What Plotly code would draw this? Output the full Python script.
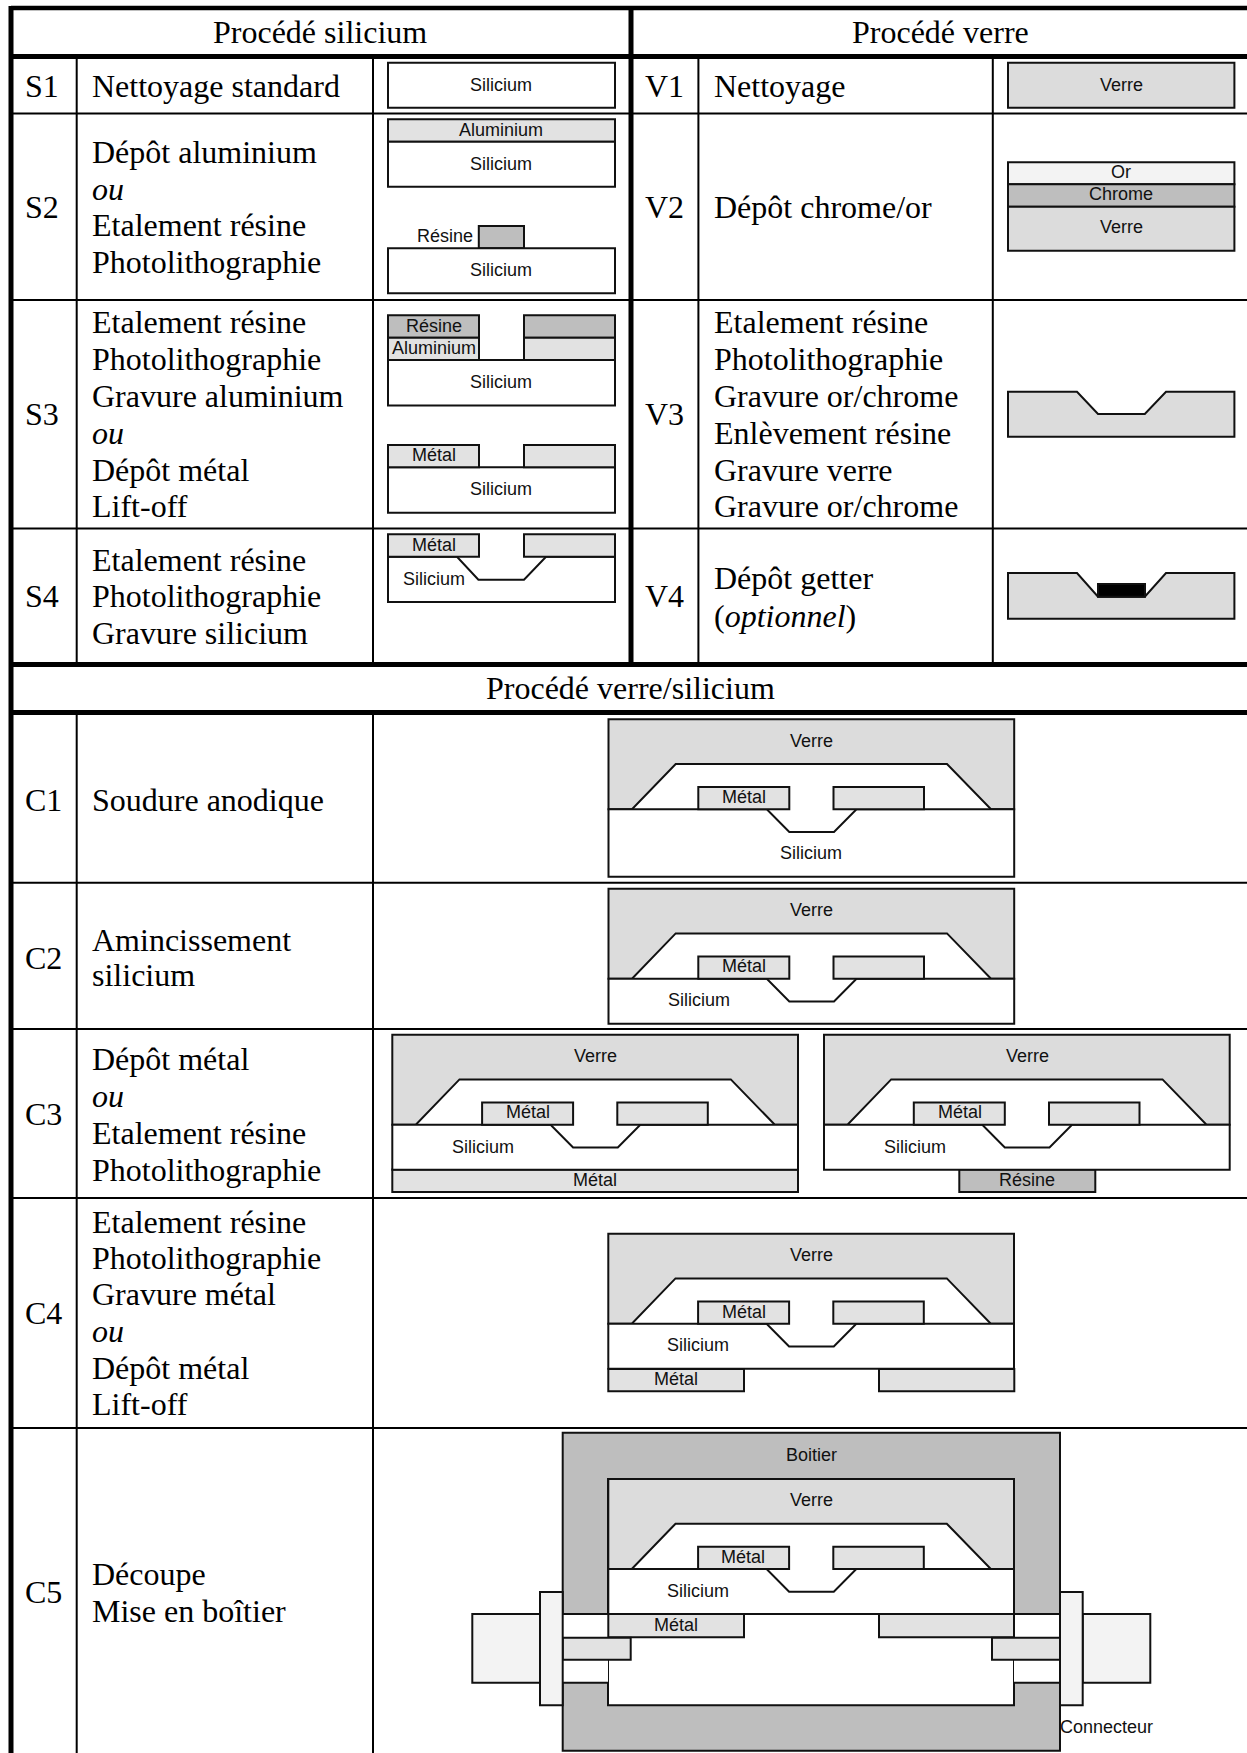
import plotly.graph_objects as go

WIDTH, HEIGHT = 1247, 1753
SERIF = "Liberation Serif"
SANS = "Liberation Sans"
SI, AL, GLASS, RES, OR, CONN = "#ffffff", "#e2e2e2", "#dcdcdc", "#bebebe", "#f3f3f3", "#f3f3f3"

# Table rules: (x0, y0, x1, y1, width)
TABLE_LINES = [
    (11, 8, 1247, 8, 4.5), (11, 56.5, 1247, 56.5, 5), (11, 664.5, 1247, 664.5, 5), (11, 712.5, 1247, 712.5, 5),
    (11, 6, 11, 1753, 5), (631, 8, 631, 664, 5),
    (11, 113.5, 1247, 113.5, 2), (11, 300, 1247, 300, 2), (11, 528.5, 1247, 528.5, 2),
    (11, 882.7, 1247, 882.7, 2), (11, 1029, 1247, 1029, 2), (11, 1198, 1247, 1198, 2), (11, 1428, 1247, 1428, 2),
    (76.7, 57, 76.7, 664, 2), (373, 57, 373, 664, 2), (698.4, 57, 698.4, 664, 2), (992.8, 57, 992.8, 664, 2),
    (76.7, 713, 76.7, 1753, 2), (373, 713, 373, 1753, 2),
]

# Headers and row text: (x, baseline y, text, anchor)
HEADERS = [(320, 42.7, "Procédé silicium"), (940, 42.7, "Procédé verre"), (630, 699.3, "Procédé verre/silicium")]
STEP_IDS = [
    (42, 96.7, "S1"), (42, 218, "S2"), (42, 425, "S3"), (42, 606.7, "S4"),
    (664, 96.7, "V1"), (664, 218, "V2"), (664, 425, "V3"), (664, 606.7, "V4"),
    (43, 811, "C1"), (43, 968.5, "C2"), (43, 1125, "C3"), (43, 1323.5, "C4"), (43, 1603, "C5"),
]
STEP_LINES_LEFT = [
    (96.7, "Nettoyage standard"),
    (163.3, "Dépôt aluminium"), (200, "<i>ou</i>"), (236, "Etalement résine"), (272.7, "Photolithographie"),
    (332.7, "Etalement résine"), (369.8, "Photolithographie"), (406.7, "Gravure aluminium"), (444, "<i>ou</i>"),
    (480.7, "Dépôt métal"), (516.7, "Lift-off"),
    (570.7, "Etalement résine"), (607, "Photolithographie"), (644, "Gravure silicium"),
    (811, "Soudure anodique"),
    (950.6, "Amincissement"), (986, "silicium"),
    (1070, "Dépôt métal"), (1107, "<i>ou</i>"), (1144, "Etalement résine"), (1181, "Photolithographie"),
    (1232.5, "Etalement résine"), (1268.8, "Photolithographie"), (1305, "Gravure métal"), (1342, "<i>ou</i>"),
    (1379, "Dépôt métal"), (1415, "Lift-off"),
    (1584.5, "Découpe"), (1621.5, "Mise en boîtier"),
]
STEP_LINES_RIGHT = [
    (96.7, "Nettoyage"), (218, "Dépôt chrome/or"),
    (332.7, "Etalement résine"), (369.8, "Photolithographie"), (406.7, "Gravure or/chrome"),
    (444, "Enlèvement résine"), (481, "Gravure verre"), (517, "Gravure or/chrome"),
    (589, "Dépôt getter"), (626.7, "(<i>optionnel</i>)"),
]

# Process-step rectangles: (x0, y0, x1, y1, fill)
RECTS = [
    (388, 62.7, 615, 107.7, SI),
    (388, 119.3, 615, 141.7, AL), (388, 141.7, 615, 186.7, SI),
    (478.8, 226, 524, 248.3, RES), (388, 248.3, 615, 293.3, SI),
    (388, 360, 615, 405.5, SI), (388, 315.3, 479, 337.7, RES), (524, 315.3, 615, 337.7, RES),
    (388, 337.7, 479, 360, AL), (524, 337.7, 615, 360, AL),
    (388, 467.3, 615, 512.7, SI), (388, 445, 479, 467.3, AL), (524, 445, 615, 467.3, AL),
    (1008, 62.7, 1234.4, 107.7, GLASS),
    (1008, 162.3, 1234.4, 184.3, OR), (1008, 184.3, 1234.4, 206.7, RES), (1008, 206.7, 1234.4, 250.7, GLASS),
]
# Process-step outlines: (points, fill)
POLYS = [
    ([(388, 556.7), (457, 556.7), (478.4, 579.7), (524, 579.7), (546, 556.7), (615, 556.7), (615, 602), (388, 602)], SI),
    ([(1008, 391.7), (1077, 391.7), (1098, 414), (1144.8, 414), (1166, 391.7), (1234.4, 391.7), (1234.4, 436.7), (1008, 436.7)], GLASS),
    ([(1008, 573), (1077, 573), (1098, 596.7), (1144.8, 596.7), (1166, 573), (1234.4, 573), (1234.4, 618.7), (1008, 618.7)], GLASS),
]
RECTS_AFTER = [
    (388, 534.3, 479, 556.7, AL), (524, 534.3, 615, 556.7, AL),
    (1098, 584, 1145, 596.7, "#000000"),
]

# Bonded device: outlines relative to its top-left corner
DEVICE_W = 405.7
GLASS_H = 90
GLASS_OUTLINE = [(0, 0), (DEVICE_W, 0), (DEVICE_W, GLASS_H), (382.5, GLASS_H), (338.5, 44.7), (67.2, 44.7), (23.5, GLASS_H), (0, GLASS_H)]
TRENCH = [(158.3, GLASS_H), (180.8, 112.7), (225.5, 112.7), (248, GLASS_H)]
PADS = [(89.8, 67.7, 180.8, GLASS_H), (225, 67.7, 315.5, GLASS_H)]
# (x, y, silicon height)
DEVICES = [(608.5, 719.3, 67.5), (608.5, 888.7, 45), (392.3, 1034.7, 45), (824, 1034.7, 45), (608.3, 1233.7, 45), (608.3, 1479, 45)]

BACK_RECTS = [(392.3, 1169.5, 798, 1192, AL), (959.3, 1169.5, 1095.3, 1192, RES),
              (608.3, 1369, 744, 1391.3, AL), (879, 1369, 1014.3, 1391.3, AL)]

# Package (C5)
PACKAGE = [
    (562.7, 1432.7, 1060, 1750.7, RES),
    (608, 1479, 1014, 1705.3, SI),
]
PACKAGE_GAPS = [(562.7, 1614, 608, 1682.7), (1014, 1614, 1060, 1682.7)]
PACKAGE_TOP = [
    (608.3, 1614, 744, 1637.3, AL), (879, 1614, 1014, 1637.3, AL),
    (562.7, 1637.7, 630.7, 1659.7, AL), (992, 1637.7, 1060, 1659.7, AL),
    (472.3, 1614, 540, 1682.7, CONN), (1082.7, 1614, 1150.3, 1682.7, CONN),
    (540, 1592, 562.7, 1705.3, CONN), (1060, 1592, 1082.7, 1705.3, CONN),
]

# Diagram labels: (x, y centre, text)
LABELS = [
    (501, 85, "Silicium"), (501, 130, "Aluminium"), (501, 164, "Silicium"), (445, 236, "Résine"), (501, 270, "Silicium"),
    (433.5, 326, "Résine"), (433.5, 348, "Aluminium"), (501, 382, "Silicium"), (433.5, 455, "Métal"), (501, 489, "Silicium"),
    (433.5, 545, "Métal"), (433.5, 579, "Silicium"),
    (1121, 85, "Verre"), (1121, 172, "Or"), (1121, 194, "Chrome"), (1121, 227, "Verre"),
    (811, 741, "Verre"), (744, 797, "Métal"), (811, 853, "Silicium"),
    (811, 910, "Verre"), (744, 966, "Métal"), (698.7, 1000, "Silicium"),
    (595, 1055.7, "Verre"), (527.5, 1112, "Métal"), (482.7, 1146.7, "Silicium"), (595, 1180, "Métal"),
    (1027, 1055.7, "Verre"), (959.5, 1112, "Métal"), (914.5, 1146.7, "Silicium"), (1027, 1180, "Résine"),
    (811, 1255, "Verre"), (744, 1312, "Métal"), (698.3, 1345, "Silicium"), (676, 1379, "Métal"),
    (811.7, 1454.8, "Boitier"), (811, 1500, "Verre"), (743, 1556.7, "Métal"), (698, 1591, "Silicium"), (676, 1624.7, "Métal"),
    (1106, 1727.3, "Connecteur"),
]

shapes = []


def rect(x0, y0, x1, y1, fill, w=2):
    shapes.append(dict(type="rect", xref="x", yref="y", x0=x0, y0=y0, x1=x1, y1=y1,
                       fillcolor=fill, line=dict(color="#111111", width=w), layer="above"))


def poly(points, fill, w=2):
    path = "M " + " L ".join(f"{x},{y}" for x, y in points) + " Z"
    shapes.append(dict(type="path", xref="x", yref="y", path=path, fillcolor=fill,
                       line=dict(color="#111111", width=w), layer="above"))


def device(ox, oy, sil_h):
    poly([(ox + x, oy + y) for x, y in GLASS_OUTLINE], GLASS)
    sil = [(ox, oy + GLASS_H)] + [(ox + x, oy + y) for x, y in TRENCH] + [
        (ox + DEVICE_W, oy + GLASS_H), (ox + DEVICE_W, oy + GLASS_H + sil_h), (ox, oy + GLASS_H + sil_h)]
    poly(sil, SI)
    for x0, y0, x1, y1 in PADS:
        rect(ox + x0, oy + y0, ox + x1, oy + y1, AL)


for r in RECTS:
    rect(*r)
for p, f in POLYS:
    poly(p, f)
for r in RECTS_AFTER:
    rect(*r)
for r in PACKAGE:
    rect(*r)
for x0, y0, x1, y1 in PACKAGE_GAPS:
    shapes.append(dict(type="rect", xref="x", yref="y", x0=x0, y0=y0, x1=x1, y1=y1, fillcolor=SI,
                       line=dict(width=0), layer="above"))
    for y in (y0, y1):
        shapes.append(dict(type="line", xref="x", yref="y", x0=x0, y0=y, x1=x1, y1=y,
                           line=dict(color="#111111", width=2), layer="above"))
for r in BACK_RECTS:
    rect(*r)
for d in DEVICES:
    device(*d)
for x0, y0, x1, y1, f in PACKAGE_TOP:
    rect(x0, y0, x1, y1, f)
for x0, y0, x1, y1, w in TABLE_LINES:
    shapes.append(dict(type="line", xref="x", yref="y", x0=x0, y0=y0, x1=x1, y1=y1,
                       line=dict(color="#000000", width=w), layer="above"))

annotations = []
SERIF_SIZE = 32
SERIF_SHIFT = 0.34 * SERIF_SIZE


def serif(x, base, text, anchor):
    annotations.append(dict(x=x, y=base - SERIF_SHIFT, xref="x", yref="y", text=text, showarrow=False,
                            xanchor=anchor, yanchor="middle", align=anchor,
                            font=dict(family=SERIF, size=SERIF_SIZE, color="#000000")))


for x, b, t in HEADERS + STEP_IDS:
    serif(x, b, t, "center")
for b, t in STEP_LINES_LEFT:
    serif(90, b, t, "left")
for b, t in STEP_LINES_RIGHT:
    serif(711.5, b, t, "left")
for x, y, t in LABELS:
    annotations.append(dict(x=x, y=y, xref="x", yref="y", text=t, showarrow=False, xanchor="center", yanchor="middle",
                            font=dict(family=SANS, size=18, color="#111111")))

fig = go.Figure()
fig.update_layout(
    width=WIDTH, height=HEIGHT, margin=dict(l=0, r=0, t=0, b=0, pad=0),
    paper_bgcolor="white", plot_bgcolor="white", showlegend=False,
    xaxis=dict(range=[0, WIDTH], visible=False, fixedrange=True),
    yaxis=dict(range=[HEIGHT, 0], visible=False, fixedrange=True),
    shapes=shapes, annotations=annotations,
)
fig.write_html("out.html", config=dict(displayModeBar=False),
               post_script="document.body.style.margin='0';document.documentElement.style.overflow='hidden';")
